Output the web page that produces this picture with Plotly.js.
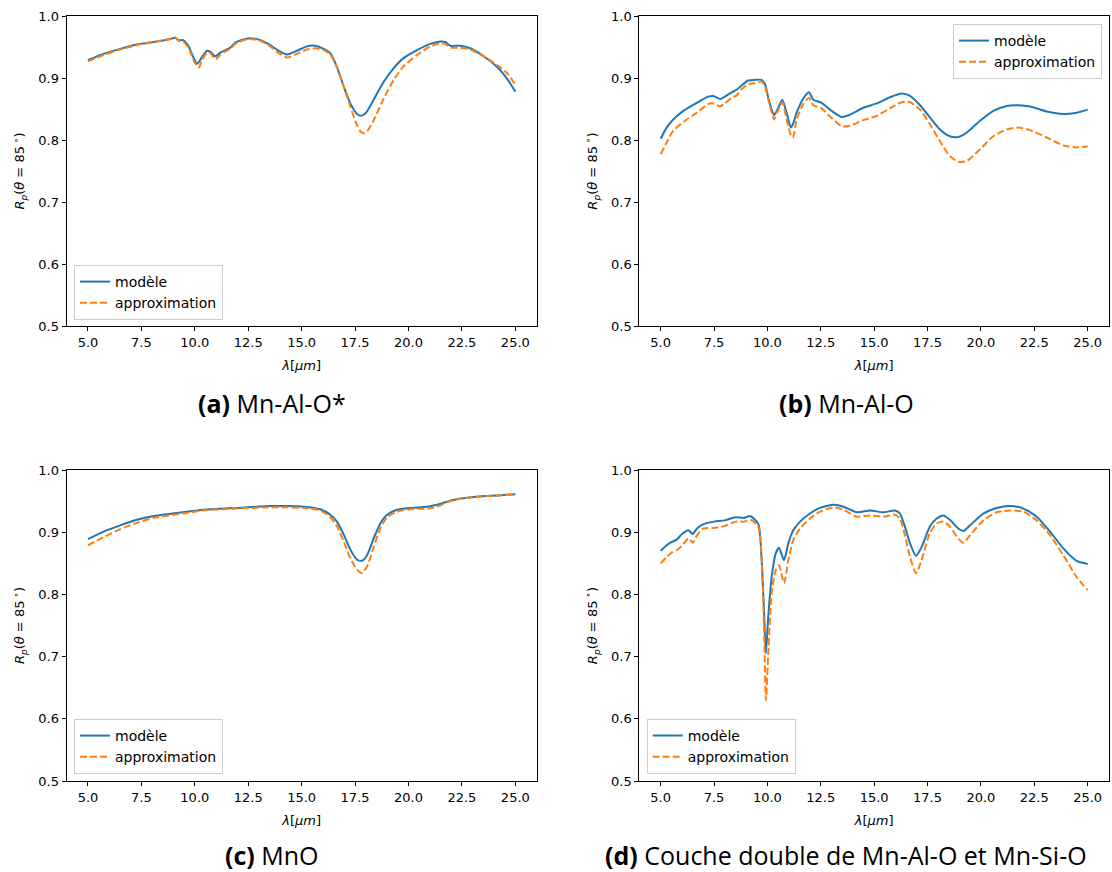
<!DOCTYPE html>
<html>
<head>
<meta charset="utf-8">
<script src="https://cdn.plot.ly/plotly-3.0.1.min.js"></script>
<style>html,body{margin:0;padding:0;background:#fff;}#chart{width:1112px;height:872px;}</style>
</head>
<body>
<div id="chart"></div>
<script>
// ---------- data ----------
const seriesNames = ["modèle", "approximation"];
const captions = ["Mn-Al-O*", "Mn-Al-O", "MnO", "Couche double de Mn-Al-O et Mn-Si-O"];
const captionTags = ["(a)", "(b)", "(c)", "(d)"];
const xTicks = [5.0, 7.5, 10.0, 12.5, 15.0, 17.5, 20.0, 22.5, 25.0];
const yTicks = [0.5, 0.6, 0.7, 0.8, 0.9, 1.0];

const xA = [5.0, 5.73, 6.51, 7.29, 8.07, 8.85, 9.09, 9.24, 9.45, 9.71, 9.95, 10.1, 10.2, 10.34, 10.57, 10.73, 10.96, 11.19, 11.43, 11.66, 11.9, 12.29, 12.6, 13.07, 13.53, 13.92, 14.31, 14.78, 15.25, 15.64, 16.03, 16.34, 16.65, 16.97, 17.28, 17.59, 17.78, 17.95, 18.06, 18.37, 18.84, 19.31, 19.77, 20.4, 21.02, 21.49, 21.72, 21.96, 22.43, 22.89, 23.52, 24.14, 24.61, 25.0];
const modelA = [0.929, 0.939, 0.947, 0.954, 0.958, 0.963, 0.965, 0.961, 0.961, 0.951, 0.932, 0.923, 0.926, 0.934, 0.944, 0.942, 0.935, 0.941, 0.945, 0.949, 0.957, 0.962, 0.964, 0.961, 0.953, 0.944, 0.938, 0.944, 0.951, 0.952, 0.947, 0.940, 0.918, 0.886, 0.859, 0.842, 0.839, 0.842, 0.846, 0.865, 0.894, 0.916, 0.932, 0.945, 0.955, 0.959, 0.958, 0.952, 0.952, 0.948, 0.935, 0.918, 0.899, 0.878];
const approxA = [0.927, 0.937, 0.946, 0.953, 0.958, 0.963, 0.965, 0.960, 0.959, 0.948, 0.928, 0.919, 0.917, 0.929, 0.941, 0.940, 0.930, 0.937, 0.943, 0.947, 0.955, 0.961, 0.963, 0.960, 0.951, 0.940, 0.933, 0.939, 0.946, 0.948, 0.945, 0.938, 0.917, 0.886, 0.854, 0.824, 0.813, 0.811, 0.814, 0.832, 0.867, 0.897, 0.919, 0.937, 0.951, 0.956, 0.955, 0.949, 0.949, 0.946, 0.935, 0.921, 0.908, 0.889];

const xB = [5.0, 5.28, 5.59, 6.06, 6.69, 7.23, 7.47, 7.78, 8.01, 8.33, 8.56, 8.79, 9.1, 9.42, 9.73, 9.89, 10.04, 10.2, 10.31, 10.51, 10.7, 10.9, 11.1, 11.2, 11.37, 11.68, 11.95, 12.15, 12.54, 12.93, 13.48, 13.87, 14.49, 15.12, 15.74, 16.29, 16.68, 17.15, 17.62, 18.08, 18.55, 18.94, 19.33, 19.96, 20.58, 21.21, 21.75, 22.3, 23.08, 23.86, 24.48, 25.0];
const modelB = [0.802, 0.820, 0.833, 0.847, 0.860, 0.870, 0.871, 0.866, 0.870, 0.877, 0.881, 0.888, 0.896, 0.897, 0.897, 0.890, 0.868, 0.849, 0.840, 0.852, 0.865, 0.844, 0.820, 0.826, 0.844, 0.867, 0.877, 0.865, 0.860, 0.849, 0.837, 0.841, 0.852, 0.859, 0.869, 0.875, 0.871, 0.856, 0.836, 0.817, 0.806, 0.805, 0.812, 0.831, 0.847, 0.855, 0.856, 0.854, 0.846, 0.842, 0.844, 0.849];
const approxB = [0.777, 0.796, 0.815, 0.829, 0.844, 0.858, 0.859, 0.854, 0.859, 0.868, 0.872, 0.882, 0.890, 0.892, 0.894, 0.886, 0.866, 0.844, 0.833, 0.849, 0.861, 0.833, 0.808, 0.804, 0.833, 0.858, 0.868, 0.856, 0.851, 0.838, 0.822, 0.823, 0.832, 0.839, 0.851, 0.861, 0.861, 0.849, 0.825, 0.798, 0.774, 0.765, 0.766, 0.785, 0.806, 0.817, 0.820, 0.816, 0.804, 0.791, 0.788, 0.790];

const xC = [5.0, 5.73, 6.51, 7.29, 8.07, 9.63, 10.41, 11.97, 13.53, 14.31, 15.09, 15.87, 16.34, 16.65, 16.97, 17.28, 17.59, 17.81, 18.06, 18.37, 18.68, 19.0, 19.46, 20.09, 20.87, 21.34, 21.8, 22.43, 23.2, 24.14, 25.0];
const modelC = [0.889, 0.901, 0.911, 0.920, 0.926, 0.933, 0.936, 0.939, 0.942, 0.942, 0.941, 0.937, 0.928, 0.917, 0.896, 0.872, 0.856, 0.854, 0.863, 0.890, 0.914, 0.928, 0.936, 0.939, 0.941, 0.944, 0.949, 0.954, 0.957, 0.959, 0.961];
const approxC = [0.879, 0.892, 0.905, 0.915, 0.923, 0.931, 0.935, 0.938, 0.940, 0.940, 0.939, 0.935, 0.924, 0.910, 0.885, 0.858, 0.840, 0.834, 0.845, 0.876, 0.906, 0.924, 0.933, 0.937, 0.938, 0.941, 0.948, 0.954, 0.957, 0.959, 0.961];

const xD = [5.0, 5.28, 5.5, 5.75, 6.0, 6.3, 6.5, 6.7, 7.0, 7.5, 8.0, 8.5, 8.9, 9.2, 9.575, 9.73, 9.84, 9.93, 10.04, 10.2, 10.39, 10.54, 10.78, 10.98, 11.21, 11.53, 11.99, 12.46, 13.09, 13.56, 14.18, 14.81, 15.43, 15.98, 16.21, 16.44, 16.68, 16.96, 17.22, 17.61, 17.93, 18.24, 18.55, 18.94, 19.18, 19.49, 20.11, 20.74, 21.36, 21.99, 22.61, 23.24, 23.86, 24.48, 25.0];
const modelD = [0.870, 0.879, 0.884, 0.888, 0.897, 0.903, 0.897, 0.906, 0.913, 0.917, 0.919, 0.924, 0.923, 0.926, 0.913, 0.855, 0.775, 0.705, 0.764, 0.828, 0.866, 0.875, 0.855, 0.882, 0.903, 0.917, 0.930, 0.939, 0.944, 0.941, 0.932, 0.935, 0.932, 0.935, 0.930, 0.909, 0.882, 0.862, 0.876, 0.909, 0.922, 0.927, 0.920, 0.906, 0.902, 0.911, 0.930, 0.939, 0.942, 0.938, 0.925, 0.901, 0.874, 0.854, 0.849];
const approxD = [0.850, 0.860, 0.867, 0.871, 0.878, 0.890, 0.883, 0.895, 0.906, 0.907, 0.910, 0.917, 0.917, 0.920, 0.909, 0.860, 0.748, 0.630, 0.705, 0.802, 0.839, 0.847, 0.818, 0.855, 0.887, 0.906, 0.922, 0.933, 0.940, 0.936, 0.925, 0.927, 0.925, 0.928, 0.922, 0.895, 0.860, 0.834, 0.855, 0.899, 0.914, 0.917, 0.909, 0.890, 0.883, 0.895, 0.919, 0.932, 0.935, 0.933, 0.919, 0.895, 0.863, 0.828, 0.807];

// ---------- layout ----------
const W = 1112, H = 872;
const panels = [
  {x: xA, m: modelA, a: approxA, xd: [66.6, 536.7], yd: [16, 326]},
  {x: xB, m: modelB, a: approxB, xd: [639.3, 1109], yd: [16, 326]},
  {x: xC, m: modelC, a: approxC, xd: [66.6, 536.7], yd: [470, 781]},
  {x: xD, m: modelD, a: approxD, xd: [639.3, 1109], yd: [470, 781]}
];
const legendPos = [
  {x: 74 / W, y: 1 - 320 / H, xanchor: 'left', yanchor: 'bottom'},
  {x: 1102 / W, y: 1 - 24 / H, xanchor: 'right', yanchor: 'top'},
  {x: 74 / W, y: 1 - 774 / H, xanchor: 'left', yanchor: 'bottom'},
  {x: 646.7 / W, y: 1 - 774 / H, xanchor: 'left', yanchor: 'bottom'}
];
const capPos = [[272, 403], [846, 403], [272, 855], [846, 855]];

const blue = '#1f77b4', orange = '#ff7f0e';
const tickFont = {family: 'DejaVu Sans, sans-serif', size: 13, color: '#000'};
const legFont = {family: 'DejaVu Sans, sans-serif', size: 14, color: '#000'};
const traces = [];
const layout = {
  width: W, height: H,
  margin: {l: 0, r: 0, t: 0, b: 0},
  paper_bgcolor: '#fff', plot_bgcolor: '#fff',
  font: tickFont,
  showlegend: true,
  annotations: []
};

panels.forEach((p, i) => {
  const n = i === 0 ? '' : String(i + 1);
  const legName = 'legend' + n;
  traces.push({
    x: p.x, y: p.m, type: 'scatter', mode: 'lines', name: seriesNames[0],
    xaxis: 'x' + n, yaxis: 'y' + n, legend: legName,
    line: {color: blue, width: 2, shape: 'spline', smoothing: 0.6}
  });
  traces.push({
    x: p.x, y: p.a, type: 'scatter', mode: 'lines', name: seriesNames[1],
    xaxis: 'x' + n, yaxis: 'y' + n, legend: legName,
    line: {color: orange, width: 2, dash: '7px,3px', shape: 'spline', smoothing: 0.6}
  });
  const axCommon = {
    showline: true, mirror: true, linecolor: '#000', linewidth: 1,
    ticks: 'outside', ticklen: 4, tickwidth: 1, tickcolor: '#000',
    showgrid: false, zeroline: false, tickfont: tickFont, fixedrange: true
  };
  layout['xaxis' + n] = Object.assign({}, axCommon, {
    domain: [p.xd[0] / W, p.xd[1] / W], range: [4, 26],
    tickmode: 'array', tickvals: xTicks, ticktext: xTicks.map(v => v.toFixed(1)),
    anchor: 'y' + n,
    title: {text: '<i>λ</i>[<i>μm</i>]', font: tickFont, standoff: 12}
  });
  layout['yaxis' + n] = Object.assign({}, axCommon, {
    domain: [1 - p.yd[1] / H, 1 - p.yd[0] / H], range: [0.5, 1.0],
    tickmode: 'array', tickvals: yTicks, ticktext: yTicks.map(v => v.toFixed(1)),
    anchor: 'x' + n,
    title: {text: '<i>R</i><sub><i>p</i></sub>(<i>θ</i> = 85<sup> ∘</sup>)', font: tickFont, standoff: 10}
  });
  layout[legName] = Object.assign({}, legendPos[i], {
    bgcolor: 'rgba(255,255,255,0.8)', bordercolor: '#cccccc', borderwidth: 1,
    font: legFont, tracegroupgap: 0, itemwidth: 30
  });
  layout.annotations.push({
    xref: 'paper', yref: 'paper', x: capPos[i][0] / W, y: 1 - capPos[i][1] / H,
    xanchor: 'center', yanchor: 'middle', showarrow: false,
    text: '<b>' + captionTags[i] + '</b> ' + captions[i],
    font: {family: 'Open Sans, sans-serif', size: 25, color: '#000'}
  });
});

Plotly.newPlot('chart', traces, layout, {staticPlot: true, displayModeBar: false});
</script>
</body>
</html>
